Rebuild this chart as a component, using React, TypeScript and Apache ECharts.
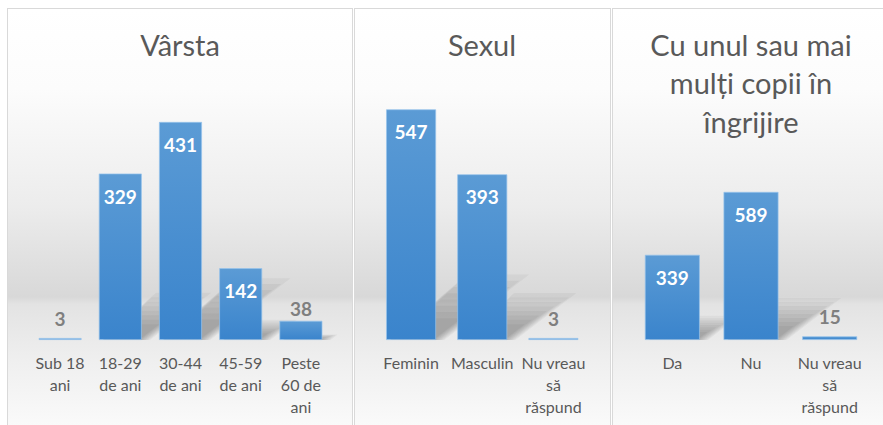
import React, { useEffect, useRef } from "react";
import * as echarts from "echarts";

// ---- Data ----
const ageCategories = ["Sub 18\nani", "18-29\nde ani", "30-44\nde ani", "45-59\nde ani", "Peste\n60 de\nani"];
const ageValues = [3, 329, 431, 142, 38];

const sexCategories = ["Feminin", "Masculin", "Nu vreau\nsă\nrăspund"];
const sexValues = [547, 393, 3];

const kidsCategories = ["Da", "Nu", "Nu vreau\nsă\nrăspund"];
const kidsValues = [339, 589, 15];

const panelTitles = ["Vârsta", "Sexul", "Cu unul sau mai\nmulți copii în\nîngrijire"];
const axisMax = [500, 600, 700];

// ---- Layout (styling only) ----
const FONT = "Lato, 'Open Sans', sans-serif";
const panels = [
  { x: 7, w: 346, cx: 180 },
  { x: 354, w: 257, cx: 482 },
  { x: 611.5, w: 290, cx: 751 },
];
const grids = [
  { left: 30, top: 87, width: 301, height: 253 },
  { left: 375.5, top: 87, width: 213.5, height: 253 },
  { left: 633, top: 164, width: 236, height: 176 },
];
const barWidths = [43, 50, 55];

const datasets = [
  { cats: ageCategories, vals: ageValues },
  { cats: sexCategories, vals: sexValues },
  { cats: kidsCategories, vals: kidsValues },
];

const PANEL_BG =
  "linear-gradient(to bottom, #ffffff 0px, #fcfcfc 80px, #ececec 198px, #d8d8d8 288px, #e3e3e3 295px, #efefef 352px, #fafafa 418px, #ffffff 440px)";

function barGradient() {
  return new echarts.graphic.LinearGradient(0, 0, 0, 1, [
    { offset: 0, color: "#5b9bd5" },
    { offset: 1, color: "#3a84cc" },
  ]);
}

export default function App() {
  const ref = useRef<HTMLDivElement>(null);

  useEffect(() => {
    if (!ref.current) return;
    const chart = echarts.init(ref.current, undefined, { renderer: "svg" });

    const titleEls: any[] = panels.map((p, idx) => ({
      type: "text",
      z: 10,
      x: p.cx,
      y: 25,
      style: {
        text: panelTitles[idx],
        align: "center",
        verticalAlign: "top",
        font: `29px ${FONT}`,
        lineHeight: 38.5,
        fill: "#595959",
      },
      silent: true,
    }));

    const xAxis: any[] = [];
    const yAxis: any[] = [];
    const series: any[] = [];

    datasets.forEach((d, gi) => {
      xAxis.push({
        type: "category",
        gridIndex: gi,
        data: d.cats,
        axisLine: { show: false },
        axisTick: { show: false },
        axisLabel: {
          interval: 0,
          margin: 12,
          color: "#595959",
          fontFamily: FONT,
          fontSize: 16,
          lineHeight: 21.7,
        },
      });
      yAxis.push({
        type: "value",
        gridIndex: gi,
        min: 0,
        max: axisMax[gi],
        show: false,
        splitLine: { show: false },
      });
      series.push({
        type: "bar",
        xAxisIndex: gi,
        yAxisIndex: gi,
        z: 5,
        barWidth: barWidths[gi],
        barMinHeight: 2,
        itemStyle: {
          color: barGradient(),
          borderColor: "rgba(150,195,235,0.9)",
          borderWidth: 0.8,
        },
        data: d.vals.map((v) => {
          const frac = v / axisMax[gi];
          const inside = frac > 0.12;
          return {
            value: v,
            label: inside
              ? {
                  show: true,
                  position: "insideTop",
                  distance: 13,
                  color: "#ffffff",
                  fontFamily: FONT,
                  fontWeight: "bold",
                  fontSize: 19,
                }
              : {
                  show: true,
                  position: "top",
                  distance: frac < 0.03 ? 10 : 3,
                  color: "#7f7f7f",
                  fontFamily: FONT,
                  fontWeight: "bold",
                  fontSize: 19,
                },
          };
        }),
      });
    });

    chart.setOption({
      animation: false,
      backgroundColor: "transparent",
      grid: grids,
      xAxis,
      yAxis,
      series,
    });

    // Perspective shadows, positioned through the chart's own scales
    const shadowEls: any[] = [];
    datasets.forEach((d, gi) => {
      const barW = barWidths[gi];
      d.vals.forEach((v, i) => {
        const b = chart.convertToPixel({ gridIndex: gi } as any, [i, 0]) as any;
        const t = chart.convertToPixel({ gridIndex: gi } as any, [i, v]) as any;
        if (!b || !t) return;
        const h = b[1] - t[1];
        const dy = h * 0.27;
        const dx = dy * 1.3;
        const x0 = b[0] - barW / 2;
        const x1 = b[0] + barW / 2;
        const y = b[1];
        if (dy < 2) return;
        const N = 8;
        for (let k = 0; k < N; k++) {
          const f = 1.05 - k * 0.1;
          const e = (N - 1 - k) * 1.6 - 3;
          const hy = dy * f;
          const hx = dx * f;
          shadowEls.push({
            type: "polygon",
            z: 1,
            silent: true,
            shape: {
              points: [
                [x0 + 4, y],
                [x1 + e, y],
                [x1 + hx + e, y - hy],
                [x0 + hx - e + 4, y - hy],
              ],
            },
            style: { fill: "#000000", opacity: 0.04 },
          });
        }
      });
    });

    chart.setOption({ graphic: { elements: [...shadowEls, ...titleEls] } });

    return () => chart.dispose();
  }, []);

  return (
    <div
      style={{
        position: "fixed",
        left: 0,
        top: 0,
        width: 883,
        height: 425,
        overflow: "hidden",
        background: "#ffffff",
      }}
    >
      {panels.map((p, i) => (
        <div
          key={i}
          style={{
            position: "absolute",
            left: p.x,
            top: 8,
            width: p.w,
            height: 440,
            boxSizing: "border-box",
            borderTop: "1.5px solid #d9d9d9",
            borderLeft: "1.5px solid #d9d9d9",
            borderRight: "1.5px solid #d9d9d9",
            background: PANEL_BG,
          }}
        />
      ))}
      <div
        ref={ref}
        style={{ position: "absolute", left: 0, top: 0, width: 883, height: 425 }}
      />
    </div>
  );
}
